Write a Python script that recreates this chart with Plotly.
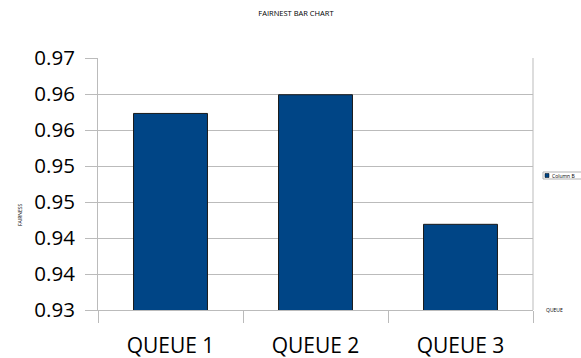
import plotly.graph_objects as go

categories = ["QUEUE 1", "QUEUE 2", "QUEUE 3"]
fairness = [0.9573, 0.9599, 0.9419]
y_tickvals = [0.930, 0.935, 0.940, 0.945, 0.950, 0.955, 0.960, 0.965]
y_ticktext = ["0.93", "0.94", "0.94", "0.95", "0.95", "0.96", "0.96", "0.97"]
series_name = "Column B"
title_text = "FAIRNEST BAR CHART"
x_title = "QUEUE"
y_title = "FAIRNESS"

BAR = "#004586"
GRID = "#bbbbbb"
FONT = "Open Sans"

fig = go.Figure()
fig.add_trace(go.Bar(
    x=categories, y=fairness, name=series_name,
    marker=dict(color=BAR, line=dict(color="#1a1a1a", width=1)),
    showlegend=False,
))

fig.update_layout(
    width=581, height=358,
    margin=dict(l=98, r=48, t=58, b=48),
    paper_bgcolor="white", plot_bgcolor="white",
    bargap=0.49,
    font=dict(family=FONT, color="#000000"),
    title=dict(text=title_text, x=296/581, xanchor="center", y=1 - 13/358, yanchor="middle",
               font=dict(size=7.5, family=FONT, color="#000")),
)
fig.update_yaxes(
    range=[0.930, 0.965], tickvals=y_tickvals, ticktext=y_ticktext,
    showgrid=True, gridcolor=GRID, gridwidth=1,
    showline=True, linecolor=GRID, linewidth=1, mirror=False,
    ticks="outside", ticklen=12, tickcolor=GRID, tickwidth=1,
    tickfont=dict(size=20.5, family=FONT, color="#000"),
    ticklabelstandoff=6, zeroline=False, automargin=False,
)
fig.update_xaxes(
    showline=True, linecolor=GRID, linewidth=1,
    ticks="outside", tickson="boundaries", ticklen=12, tickcolor=GRID, tickwidth=1,
    tickfont=dict(size=21, family=FONT, color="#000"),
    ticklabelstandoff=17, automargin=False,
)
# right border of plot area
fig.add_shape(type="line", xref="paper", yref="paper", x0=1, x1=1, y0=0, y1=1,
              line=dict(color=GRID, width=1))

# axis titles
fig.add_annotation(text=y_title, xref="paper", yref="paper", x=(15-98)/435, y=(310-215)/252,
                   textangle=-90, showarrow=False, font=dict(size=5, family=FONT, color="#000"))
fig.add_annotation(text=x_title, xref="paper", yref="paper", x=(565-98)/435, y=(310-315)/252,
                   showarrow=False, font=dict(size=5, family=FONT, color="#000"))

# legend box
lx0, ly0 = (543-98)/435, (310-179)/252
lx1, ly1 = (590-98)/435, (310-172)/252
fig.add_shape(type="rect", xref="paper", yref="paper", x0=lx0, x1=lx1, y0=ly0, y1=ly1,
              line=dict(color="#b3b3b3", width=1), fillcolor="white")
fig.add_shape(type="rect", xref="paper", yref="paper",
              x0=(545-98)/435, x1=(549-98)/435, y0=(310-177.5)/252, y1=(310-173.5)/252,
              line=dict(color="#000", width=0.5), fillcolor=BAR)
fig.add_annotation(text=series_name, xref="paper", yref="paper", x=(550-98)/435, y=(310-175.5)/252,
                   xanchor="left", showarrow=False, font=dict(size=5, family=FONT, color="#000"))

fig.write_html("out.html")
